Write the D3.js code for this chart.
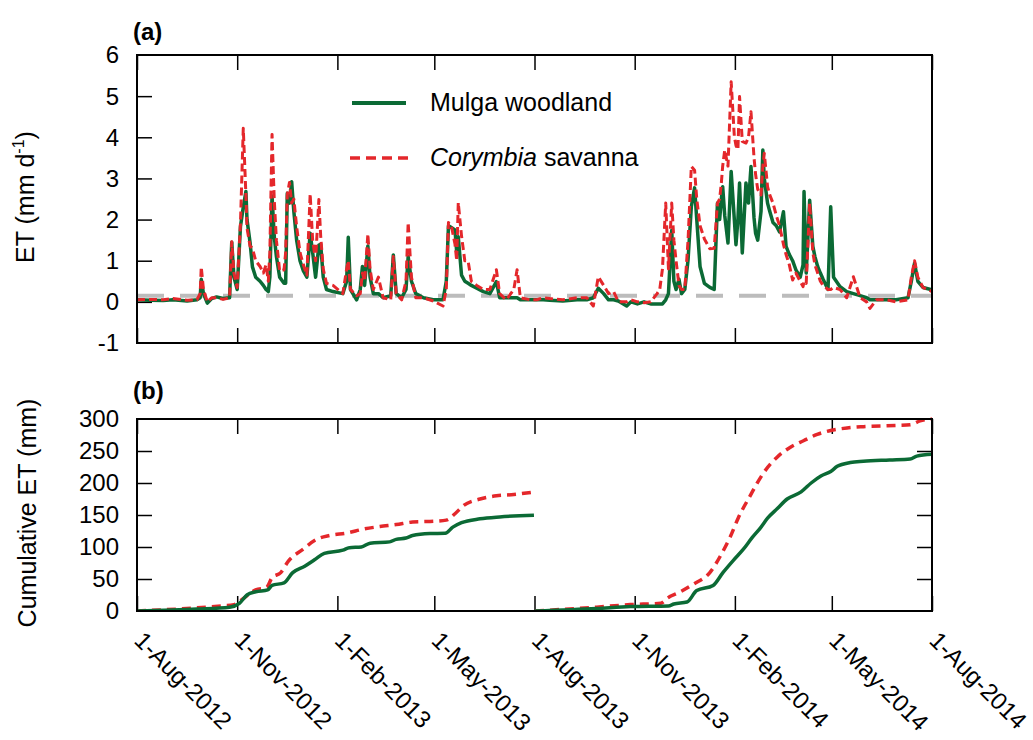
<!DOCTYPE html>
<html><head><meta charset="utf-8">
<script src="https://cdn.jsdelivr.net/npm/d3@7"></script>
<style>
body{margin:0;background:#fff;}
text{font-family:"Liberation Sans",Arial,Helvetica,sans-serif;fill:#000;}
</style>
</head><body>
<svg id="chart" width="1033" height="740"></svg>
<script>
// ---------- data ----------
const startDay = "2012-08-01";
const dateTicks = ["2012-08-01","2012-11-01","2013-02-01","2013-05-01","2013-08-01","2013-11-01","2014-02-01","2014-05-01","2014-08-01"];
const etTicks = [-1,0,1,2,3,4,5,6];
const cumTicks = [0,50,100,150,200,250,300];
const refLine = 0.15;

// days since 1-Aug-2012
const etDay = [
 0,12,24,33,46,55,58,59,61,64.6,
 68.6,73,79,85,87,89,92,95,97.6,100,
 101,103.8,106,109,113,116,118.5,120.6,122,124,
 126,128,131,135,136.5,138,140,142,144,146.6,
 149.7,152.8,156,159,161.3,164,167,168.7,171,174,
 180,189,192.5,194,196,201.7,205,207,209,212,
 214,217,221.7,226,233,235.4,238,243,247,249,
 252,256,263,272,281,284,286,289,292,293.6,
 295,298,301,304,307,312,318,324,330,333,
 339,346,349,352,361,367,373,379,391,404,
 413,419,423.6,428.5,433,437.6,442,449.7,453.6,459.5,
 465.6,471.7,477.6,
 480,482.5,485.5,488,491,493,495,497.7,500,503,
 506,509,512,514,517,521,526,530,533,535,
 536.6,537.8,539.7,542.7,545.6,548.5,550,551.8,553.3,555.8,
 559.2,561.5,563.8,566.6,568,570,573,574.7,576,579,
 581,584,587,590,593.6,596,599,602,605,609,
 611.6,612.5,614.5,617.7,620.6,622.5,625,627.5,630,634.5,
 637,639.6,645.6,651.7,657.8,664,670,673,679,688,
 697,708,711,714,717,721.7,730];
const mulgaET = [
 0.05,0.04,0.03,0.05,0.02,0.05,0.1,0.55,0.2,-0.03,
 0.08,0.12,0.08,0.1,1.45,0.6,0.3,1.83,2.3,2.68,
 2.0,1.45,0.85,0.6,0.5,0.4,0.3,0.25,0.6,2.57,
 1.6,1.1,0.6,0.45,0.45,2.64,2.4,2.92,2.2,1.5,
 1.0,0.75,0.6,1.67,1.2,0.6,1.38,1.4,0.6,0.3,
 0.25,0.2,0.5,1.57,0.3,0.05,0.3,0.86,0.4,1.36,
 0.6,0.2,0.2,0.1,0.15,1.14,0.2,0.1,0.3,1.1,
 0.5,0.2,0.1,0.05,0.05,0.5,1.85,1.8,1.75,1.2,
 1.58,0.65,0.5,0.45,0.4,0.33,0.25,0.2,0.49,0.1,
 0.1,0.1,0.1,0.05,0.05,0.05,0.05,0.04,0.02,0.05,
 0.05,0.1,0.33,0.2,0.05,0.05,0.02,-0.1,0.0,-0.05,
 0.0,-0.05,-0.05,
 -0.05,-0.05,0.05,0.2,1.74,0.5,0.3,0.55,0.2,0.3,
 1.02,2.31,2.77,2.0,0.86,0.45,0.35,0.3,2.4,2.0,
 2.5,2.8,2.1,1.43,3.17,2.0,1.39,2.0,2.89,1.19,
 2.89,2.4,3.29,2.04,1.67,1.5,2.2,3.69,3.0,2.4,
 2.2,1.93,1.85,1.7,2.19,1.35,1.15,1.0,0.78,0.6,
 0.9,2.68,0.7,2.47,1.35,1.1,0.86,0.7,0.55,0.3,
 2.31,0.6,0.37,0.25,0.2,0.15,0.1,0.05,0.05,0.05,
 0.05,0.1,0.5,0.94,0.5,0.35,0.29];
const corymbiaET = [
 0.05,0.06,0.05,0.08,0.04,0.05,0.2,0.85,0.3,0.0,
 0.1,0.1,0.06,0.1,1.46,0.7,0.35,1.9,4.22,2.6,
 1.8,1.36,1.3,1.0,0.86,0.7,0.9,0.5,1.2,4.07,
 2.5,1.5,0.75,0.78,1.2,2.6,2.9,2.4,2.5,1.83,
 1.2,0.9,0.65,2.62,1.5,1.0,2.49,1.6,0.8,0.45,
 0.4,0.2,0.8,1.0,0.3,0.15,0.2,0.7,0.5,1.65,
 0.8,0.3,0.6,0.1,0.05,1.1,0.2,0.05,0.5,1.93,
 0.6,0.1,0.1,0.02,-0.1,0.3,1.93,1.8,1.4,1.0,
 2.41,1.6,1.0,1.0,0.5,0.4,0.3,0.3,0.78,0.2,
 0.05,0.3,0.78,0.1,0.05,0.05,0.1,0.08,0.05,0.1,
 0.1,-0.1,0.61,0.4,0.2,0.25,0.0,0.0,0.05,0.0,
 -0.02,0.0,0.2,
 0.3,0.8,2.4,0.8,2.4,1.5,1.0,0.4,0.3,0.3,
 1.5,3.29,3.2,2.5,1.85,1.53,1.29,1.3,2.4,2.5,
 2.89,3.3,3.69,3.3,5.35,4.02,3.8,3.7,4.99,3.9,
 3.86,4.0,4.62,3.5,3.1,2.73,2.6,3.3,3.61,2.8,
 2.6,2.4,2.1,1.85,1.4,1.15,0.9,0.53,0.7,0.5,
 0.37,0.5,0.45,2.4,1.2,0.9,0.7,0.5,0.4,0.3,
 0.3,0.35,0.3,0.1,0.61,0.1,0.0,-0.16,0.05,0.05,
 0.0,0.05,0.6,1.0,0.6,0.35,0.25];

// cumulative ET, year 1 and year 2
const mulgaCumDay1 = [0,55,85,94,101,109,120,124,135,143,154,163,172,189,195,206,214,232,238,247,253,269,283,290,298,315,333,364.5];
const mulgaCum1    = [0,3,6,12,25,30,33,40,44,60,70,80,90,95,99,100,106,108,112,114,118,121,121.5,131,138,144,147,149.5];
const corymbiaCumDay1 = [0,55,77,89,98,109,119,124,132,139,152,165,177,193,208,223,238,253,269,284,292,300,315,330,346,364.5];
const corymbiaCum1    = [0,5,8,10,20,33,37,52,60,78,96,112,118,122,128,132,135,139,140,142,152,165,175,180,182,186];
const mulgaCumDay2 = [365.5,422,453,488,493,505,514,529,538,548,557,565,572.5,579,588,597,609.8,619,628,637,643,655,667,691,710,716,730];
const mulgaCum2    = [0,4,7,8,11,14,32,40,60,80,97,115,130,145,160,175,186,200,211,218,226,232,234,236,237.5,242,245];
const corymbiaCumDay2 = [365.5,422,453,481,487,499,511,526,537,544.5,552,563,575,587.5,600,612,624.6,637,652,667,698,710,719,730];
const corymbiaCum2    = [0,6,10,12,20,30,42,60,90,115,145,180,215,240,256,266,276,282,286,288,290,291,297,300];

const seriesNames = ["Mulga woodland", "Corymbia savanna"];

// ---------- drawing ----------
const GREEN = "#0b6a35", RED = "#e4272b", GRAY = "#bcbcbc";
const svg = d3.select("#chart");
const parse = d3.timeParse("%Y-%m-%d");
const t0 = parse(startDay);
const toDate = d => d3.timeHour.offset(t0, d * 24);
const fmt = d3.timeFormat("%-d-%b-%Y");

const L = 137, R = 932;
const x = d3.scaleTime().domain([parse(dateTicks[0]), parse(dateTicks[dateTicks.length-1])]).range([L, R]);
const yA = d3.scaleLinear().domain([-1, 6]).range([343, 55]);
const yB = d3.scaleLinear().domain([0, 300]).range([611, 419]);

svg.append("defs").append("clipPath").attr("id","clipA").append("rect")
  .attr("x", L).attr("y", 55).attr("width", R-L).attr("height", 343-55);
svg.select("defs").append("clipPath").attr("id","clipB").append("rect")
  .attr("x", L).attr("y", 417).attr("width", R-L).attr("height", 611-417);

function frame(y, top, bottom, rightTicks) {
  const tickVals = dateTicks.map(parse);
  svg.append("g").attr("transform", `translate(0,${top})`)
    .call(d3.axisTop(x).tickValues(tickVals).tickSize(-15).tickFormat(""))
    .call(g => g.select(".domain").remove())
    .selectAll("line").attr("stroke","#000").attr("stroke-width",1.5);
  svg.append("g").attr("transform", `translate(0,${bottom})`)
    .call(d3.axisBottom(x).tickValues(tickVals).tickSize(-15).tickFormat(""))
    .call(g => g.select(".domain").remove())
    .selectAll("line").attr("stroke","#000").attr("stroke-width",1.5);
  if (rightTicks) {
    svg.append("g").attr("transform", `translate(${R},0)`)
      .call(d3.axisRight(y).tickValues(rightTicks).tickSize(-15).tickFormat(""))
      .call(g => g.select(".domain").remove())
      .selectAll("line").attr("stroke","#000").attr("stroke-width",1.5);
  }
}

function leftAxis(y, ticks) {
  const g = svg.append("g").attr("transform", `translate(${L},0)`)
    .call(d3.axisLeft(y).tickValues(ticks).tickSize(-15).tickPadding(18).tickFormat(d3.format("d")));
  g.select(".domain").remove();
  g.selectAll("line").attr("stroke","#000").attr("stroke-width",1.5);
  g.selectAll("text").attr("font-size", 24).attr("font-family","Liberation Sans, Arial, sans-serif")
    .attr("fill","#000").attr("dy","0.33em");
}

// ----- panel (a) -----
frame(yA, 55, 343, null);
leftAxis(yA, etTicks.filter(v => v < 6 && v > -1));
svg.append("g").selectAll("text").data([6, -1]).join("text")
  .attr("x", L - 18).attr("y", d => yA(d)).attr("dy","0.33em")
  .attr("text-anchor","end").attr("font-size",24).text(d => d);

const etPts = etDay.map((d,i) => ({date: toDate(d), m: mulgaET[i], c: corymbiaET[i]}));
const gA = svg.append("g").attr("clip-path","url(#clipA)");
gA.append("line").attr("x1", L).attr("x2", R).attr("y1", yA(refLine)).attr("y2", yA(refLine))
  .attr("stroke", GRAY).attr("stroke-width", 4).attr("stroke-dasharray","27,16");
gA.append("path").datum(etPts)
  .attr("d", d3.line().x(d => x(d.date)).y(d => yA(d.m)))
  .attr("fill","none").attr("stroke",GREEN).attr("stroke-width",3.5).attr("stroke-linejoin","round");
gA.append("path").datum(etPts)
  .attr("d", d3.line().x(d => x(d.date)).y(d => yA(d.c)))
  .attr("fill","none").attr("stroke",RED).attr("stroke-width",3).attr("stroke-dasharray","8,4")
  .attr("stroke-linejoin","round");

svg.append("rect").attr("x", L).attr("y", 55).attr("width", R-L).attr("height", 343-55)
  .attr("fill","none").attr("stroke","#000").attr("stroke-width",2);

// legend
const leg = svg.append("g");
leg.append("line").attr("x1",352).attr("x2",406).attr("y1",103).attr("y2",103)
  .attr("stroke",GREEN).attr("stroke-width",4);
leg.append("text").attr("x",430).attr("y",111).attr("font-size",25).text(seriesNames[0]);
leg.append("line").attr("x1",350).attr("x2",410).attr("y1",158).attr("y2",158)
  .attr("stroke",RED).attr("stroke-width",3.5).attr("stroke-dasharray","10,6");
const lt = leg.append("text").attr("x",430).attr("y",166).attr("font-size",25);
lt.append("tspan").attr("font-style","italic").text(seriesNames[1].split(" ")[0]);
lt.append("tspan").text(" " + seriesNames[1].split(" ")[1]);

svg.append("text").attr("x",133).attr("y",40).attr("font-size",24).attr("font-weight","bold").text("(a)");
const tA = svg.append("text").attr("transform","translate(34,197) rotate(-90)")
  .attr("text-anchor","middle").attr("font-size",25);
tA.append("tspan").text("ET (mm d");
tA.append("tspan").attr("font-size",16).attr("dy",-10).text("-1");
tA.append("tspan").attr("dy",10).text(")");

// ----- panel (b) -----
frame(yB, 419, 611, cumTicks.filter(v => v > 0 && v < 300));
leftAxis(yB, cumTicks.filter(v => v > 0 && v < 300));
svg.append("g").selectAll("text").data([300, 0]).join("text")
  .attr("x", L - 18).attr("y", d => yB(d)).attr("dy","0.33em")
  .attr("text-anchor","end").attr("font-size",24).text(d => d);

const gB = svg.append("g").attr("clip-path","url(#clipB)");
const cumLine = d3.line().x(d => x(toDate(d[0]))).y(d => yB(d[1])).curve(d3.curveMonotoneX);
[[corymbiaCumDay1, corymbiaCum1], [corymbiaCumDay2, corymbiaCum2]].forEach(([ds, vs]) => {
  gB.append("path").datum(ds.map((d,i) => [d, vs[i]])).attr("d", cumLine)
    .attr("fill","none").attr("stroke",RED).attr("stroke-width",3.5).attr("stroke-dasharray","9,6");
});
[[mulgaCumDay1, mulgaCum1], [mulgaCumDay2, mulgaCum2]].forEach(([ds, vs]) => {
  gB.append("path").datum(ds.map((d,i) => [d, vs[i]])).attr("d", cumLine)
    .attr("fill","none").attr("stroke",GREEN).attr("stroke-width",3.5);
});

svg.append("rect").attr("x", L).attr("y", 419).attr("width", R-L).attr("height", 611-419)
  .attr("fill","none").attr("stroke","#000").attr("stroke-width",2);

svg.append("text").attr("x",133).attr("y",399).attr("font-size",24).attr("font-weight","bold").text("(b)");
svg.append("text").attr("transform","translate(36,513) rotate(-90)")
  .attr("text-anchor","middle").attr("font-size",25).text("Cumulative ET (mm)");

// x tick labels
svg.append("g").selectAll("text").data(dateTicks).join("text")
  .attr("transform", d => `translate(${x(parse(d)) - 4},642) rotate(45)`)
  .attr("font-size",24).text(d => fmt(parse(d)));
</script>
</body></html>
